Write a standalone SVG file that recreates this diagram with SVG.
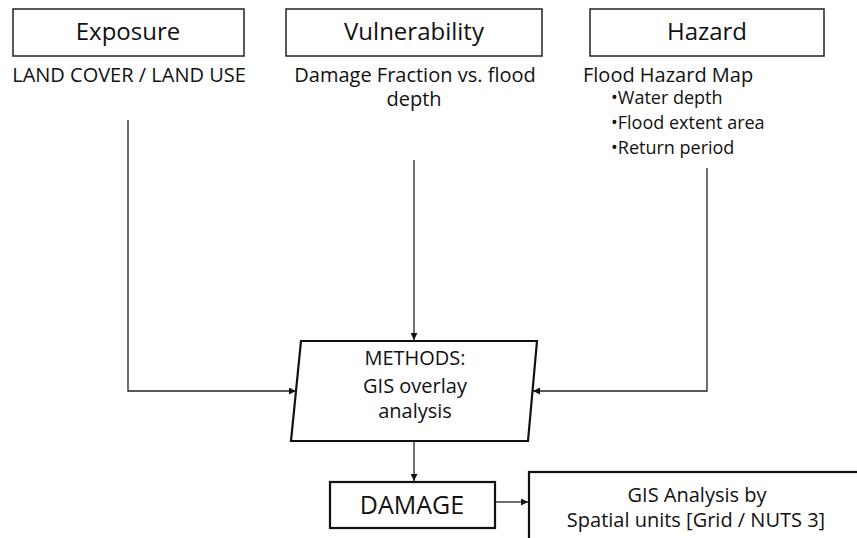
<svg xmlns="http://www.w3.org/2000/svg" width="857" height="538" viewBox="0 0 857 538">
<style>
text{font-family:"Open Sans","Noto Sans","DejaVu Sans",sans-serif;fill:#111;}
.box{fill:#fff;stroke:#222;stroke-width:1.5;}
.thick{fill:#fff;stroke:#111;stroke-width:2.2;}
.t{font-size:24px;text-anchor:middle;}
.s{font-size:20px;}
.b{font-size:18px;}
.c{fill:none;stroke:#222;stroke-width:1.3;}
</style>
<defs>
<marker id="ah" viewBox="0 0 10 10" refX="10" refY="5" markerWidth="7" markerHeight="7" markerUnits="userSpaceOnUse" orient="auto">
<path d="M0,0 L10,5 L0,10 z" fill="#111"/>
</marker>
</defs>
<g id="exposure">
<rect class="box" x="13" y="9" width="231" height="47"/>
<text class="t" x="128" y="40">Exposure</text>
<text class="s" x="129" y="82" text-anchor="middle">LAND COVER / LAND USE</text>
</g>
<g id="vulnerability">
<rect class="box" x="286" y="9" width="256" height="47"/>
<text class="t" x="414" y="40">Vulnerability</text>
<text class="s" x="415" y="82" text-anchor="middle">Damage Fraction vs. flood</text>
<text class="s" x="414" y="106" text-anchor="middle">depth</text>
</g>
<g id="hazard">
<rect class="box" x="590" y="9" width="234" height="47"/>
<text class="t" x="707" y="40">Hazard</text>
<text class="s" x="583" y="82">Flood Hazard Map</text>
<text class="b" x="611" y="104">•Water depth</text>
<text class="b" x="611" y="129">•Flood extent area</text>
<text class="b" x="611" y="154">•Return period</text>
</g>
<g id="methods">
<polygon class="thick" points="301,341 537,341 528,441 291,441"/>
<text class="s" x="415" y="365" text-anchor="middle">METHODS:</text>
<text class="s" x="415" y="393" text-anchor="middle">GIS overlay</text>
<text class="s" x="415" y="418" text-anchor="middle">analysis</text>
</g>
<g id="damage">
<rect class="thick" x="330" y="482" width="165" height="46"/>
<text x="412" y="514" text-anchor="middle" font-size="25">DAMAGE</text>
</g>
<g id="gis-analysis">
<rect class="thick" x="529" y="472" width="340" height="80"/>
<text class="s" x="697" y="502" text-anchor="middle">GIS Analysis by</text>
<text class="s" x="696" y="527" text-anchor="middle">Spatial units [Grid / NUTS 3]</text>
</g>
<g id="connectors">
<polyline class="c" points="128,120 128,391 296,391" marker-end="url(#ah)"/>
<line class="c" x1="414" y1="160" x2="414" y2="340" marker-end="url(#ah)"/>
<polyline class="c" points="707,168 707,391 533,391" marker-end="url(#ah)"/>
<line class="c" x1="414" y1="442" x2="414" y2="481" marker-end="url(#ah)"/>
<line class="c" x1="496" y1="502" x2="528" y2="502" marker-end="url(#ah)"/>
</g>
</svg>
